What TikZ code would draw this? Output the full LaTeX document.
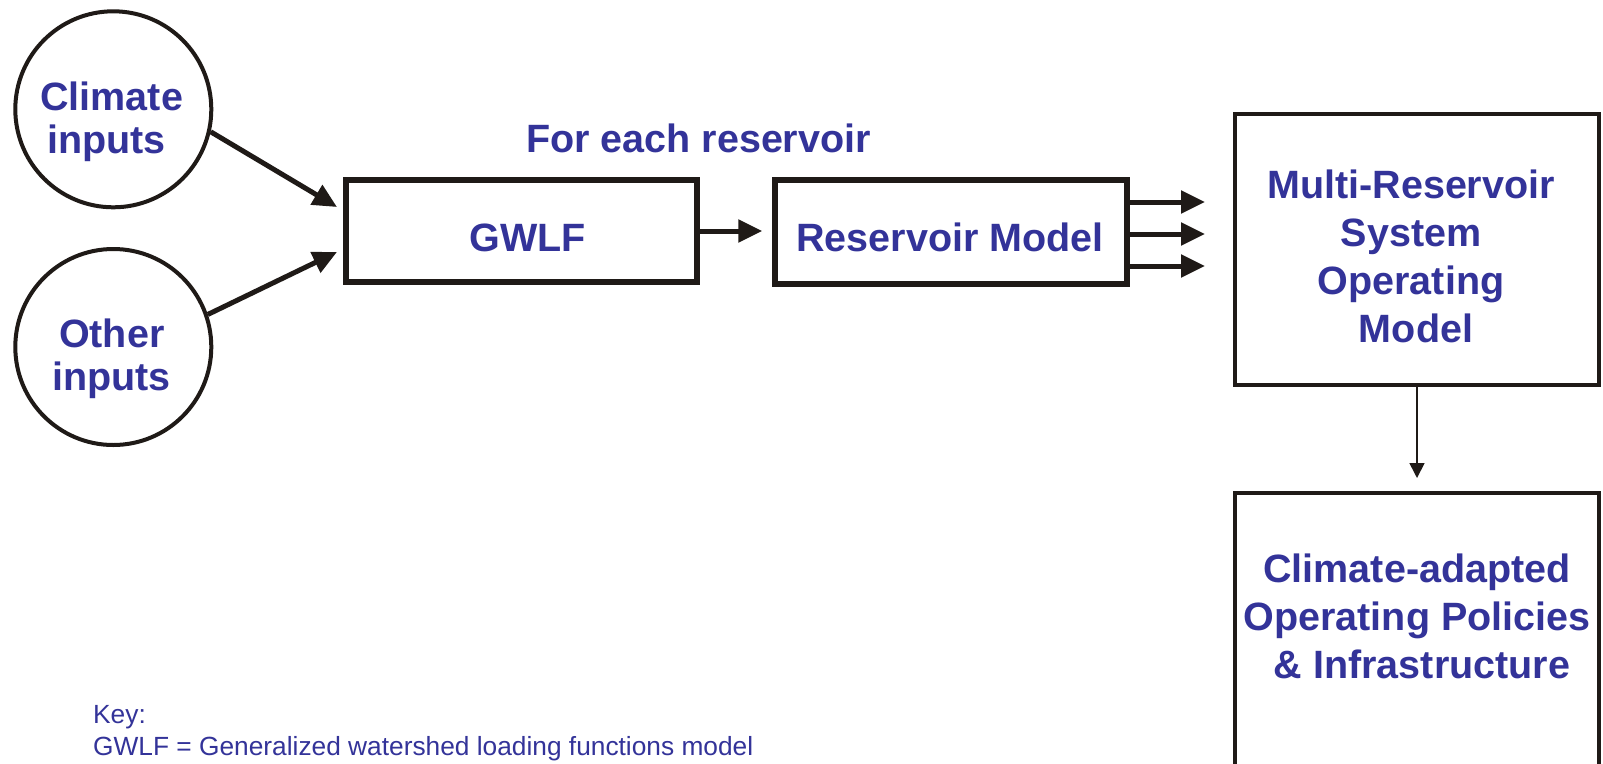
\documentclass[tikz,border=0pt]{standalone}
\usepackage{fontspec}
\setmainfont{Liberation Sans}
\usetikzlibrary{arrows.meta,calc}
\definecolor{txtblue}{RGB}{51,51,153}
\definecolor{ink}{RGB}{31,26,23}
\begin{document}
\begin{tikzpicture}[x=1pt,y=-1pt,
  bt/.style={font=\fontsize{39.5}{48}\selectfont\bfseries, text=txtblue, inner sep=0pt, anchor=base, align=center},
  ctxt/.style={bt, font=\fontsize{39.5}{43}\selectfont\bfseries},
  keytxt/.style={font=\fontsize{26.3}{32.4}\selectfont, text=txtblue, inner sep=0pt, anchor=base west, align=left},
  inputc/.style={circle, draw=ink, line width=4pt, minimum size=196pt, inner sep=0pt},
  thickbox/.style={draw=ink, line width=5.5pt, inner sep=0pt},
  bigbox/.style={draw=ink, line width=4pt, inner sep=0pt},
  fatarrow/.style={draw=ink, line width=5pt, -{Triangle[length=24pt,width=22pt]}},
  thinarrow/.style={draw=ink, line width=1.7pt, -{Triangle[length=15pt,width=15pt]}}]
\clip (0,0) rectangle (1603,763);
\fill[white] (0,0) rectangle (1603,763);

% shapes
\node[inputc] (clim) at (113.3,109.3) {};
\node[inputc] (oth) at (113.3,347) {};
\node[thickbox, minimum width=351pt, minimum height=102pt] (gwlf) at (521.5,231) {};
\node[thickbox, minimum width=352pt, minimum height=104pt] (res) at (951,232) {};
\node[bigbox, minimum width=364pt, minimum height=271pt] (multi) at (1417,249.5) {};
\node[bigbox, minimum width=364pt, minimum height=320pt] (pol) at (1417,653) {};

% texts (base anchor = baseline of last line)
\node[ctxt] (climtxt) at (111.7,153) {Climate\\inputs\hspace*{10pt}};
\node[ctxt] (othtxt) at (111.7,390) {Other\\inputs};
\node[bt] (each) at (698.5,152) {For each reservoir};
\node[bt] (gwlftxt) at (527.5,251) {GWLF};
\node[bt] (restxt) at (950,251) {Reservoir Model};
\node[bt] (multitxt) at (1411,342) {Multi-Reservoir\\System\\Operating\\\hspace*{10pt}Model};
\node[bt] (poltxt) at (1417,678) {Climate-adapted\\Operating Policies\\\hspace*{10pt}\& Infrastructure};
\node[keytxt] (key) at (93,755.7) {Key:\\GWLF = Generalized watershed loading functions model};

% connectors
\coordinate (t1) at (337,207);
\coordinate (t2) at (337,252);
\draw[fatarrow] (clim.-13) -- (t1);
\draw[fatarrow] (oth.19) -- (t2);
\draw[fatarrow, shorten >=10pt] (gwlf.east) -- (gwlf.east -| res.west);
\coordinate (r1) at ([yshift=30pt]res.east);
\coordinate (r2) at ([yshift=-2pt]res.east);
\coordinate (r3) at ([yshift=-34pt]res.east);
\draw[fatarrow, shorten >=28pt] (r1) -- (r1 -| multi.west);
\draw[fatarrow, shorten >=28pt] (r2) -- (r2 -| multi.west);
\draw[fatarrow, shorten >=28pt] (r3) -- (r3 -| multi.west);
\draw[thinarrow, shorten >=13pt] (multi.south) -- (pol.north);
\end{tikzpicture}
\end{document}
